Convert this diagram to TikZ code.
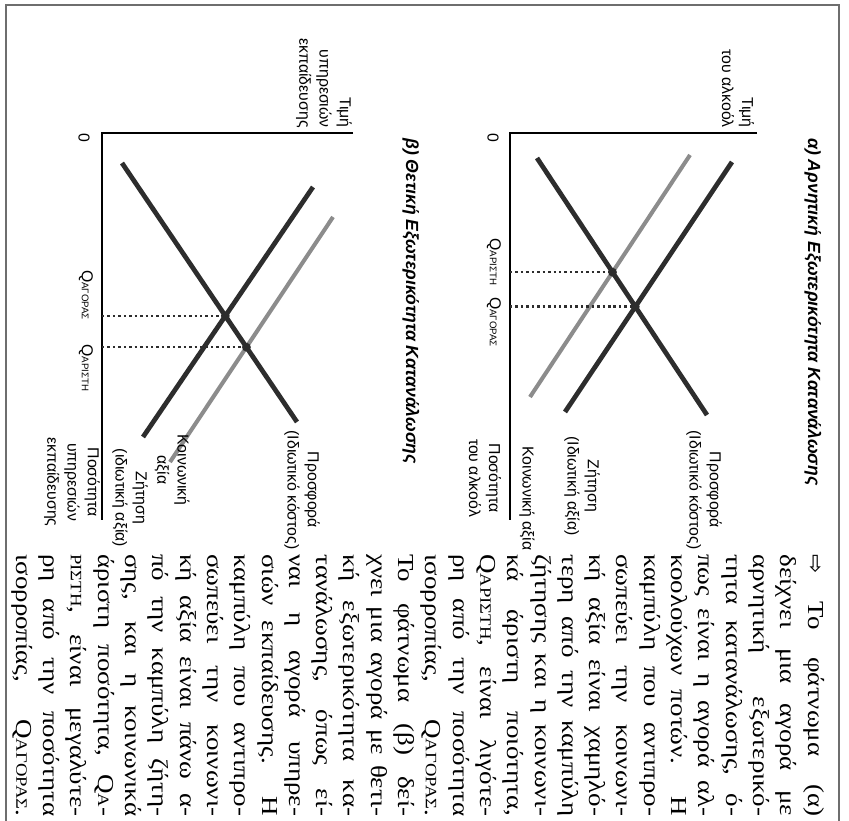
\documentclass[tikz,border=0pt]{standalone}
\usepackage{fontspec}
\setmainfont{Liberation Serif}[FakeStretch=1.18]
\newfontfamily\labelfont{Liberation Sans}
\newfontfamily\arrowfont{DejaVu Sans}
\definecolor{inkdark}{RGB}{45,45,45}
\definecolor{inkgray}{RGB}{140,140,140}
\definecolor{framegray}{RGB}{110,110,110}
\newcommand{\Qaxis}[1]{Q{\fontsize{5.5}{5.5}\selectfont #1}}
\newcommand{\Qbody}[1]{Q{\fontsize{9}{9}\selectfont #1}}
\newlength{\colw}
\setlength{\colw}{5.24cm}

\begin{document}
\begin{tikzpicture}[x=0.02cm, y=-0.02cm,
  axis/.style={draw=black, line width=0.8pt},
  darkcurve/.style={draw=inkdark, line width=2.7pt},
  graycurve/.style={draw=inkgray, line width=2.3pt},
  guide/.style={draw=inkdark, line width=1.5pt, dash pattern=on 1.4pt off 1.7pt},
  eqdot/.style={fill=inkdark, circle, inner sep=0pt, minimum size=5pt},
  axlabel/.style={rotate=-90, inner sep=0pt, align=center,
    font=\labelfont\fontsize{9}{11.5}\selectfont},
  qlabel/.style={rotate=-90, inner sep=0pt, font=\labelfont\fontsize{9}{9}\selectfont},
  titlebox/.style={rotate=-90, inner sep=0pt, anchor=west,
    font=\labelfont\bfseries\itshape\fontsize{10}{12}\selectfont},
  bodyline/.style={rotate=-90, inner sep=0pt, anchor=base west,
    font=\fontsize{13}{15.5}\selectfont}]
  \useasboundingbox (0,0) rectangle (849,821);
  % Frame
  \draw[framegray, line width=1pt] (6,830) -- (6,5) -- (839,5) -- (839,830);

  % (a) negative externality
  \node[titlebox] (titlea) at (813,138) {α) Αρνητική Εξωτερικότητα Κατανάλωσης};
  \coordinate (oa) at (510,133);
  \coordinate (pa) at (757,133);
  \coordinate (qa) at (510,520);
  \draw[axis] (pa) -- (oa) -- (qa);
  \coordinate (sa1) at (537,158);
  \coordinate (sa2) at (707,415);
  \coordinate (da1) at (732,162);
  \coordinate (da2) at (565,412);
  \coordinate (va1) at (690,155);
  \coordinate (va2) at (530,397);
  \draw[graycurve] (va1) -- (va2);
  \draw[darkcurve] (sa1) -- (sa2);
  \draw[darkcurve] (da1) -- (da2);
  \coordinate (mkta) at (intersection of sa1--sa2 and da1--da2);
  \coordinate (opta) at (intersection of sa1--sa2 and va1--va2);
  \draw[guide] (oa |- mkta) -- (mkta);
  \draw[guide] (oa |- opta) -- (opta);
  \node[eqdot] at (mkta) {};
  \node[eqdot] at (opta) {};
  \node[axlabel, anchor=east, align=right] (pricea) at (738,128) {Τιμή\\του αλκοόλ};
  \node[axlabel] (zeroa) at (493,138) {0};
  \node[qlabel] (qopta) at (494,262) {\Qaxis{ΑΡΙΣΤΗ}};
  \node[qlabel] (qmkta) at (494,322) {\Qaxis{ΑΓΟΡΑΣ}};
  \node[axlabel] (supla) at (704,490) {Προσφορά\\(Ιδιωτικό κόστος)};
  \node[axlabel] (demla) at (582,486) {Ζήτηση\\(Ιδιωτική αξία)};
  \node[axlabel, anchor=west] (socla) at (527,446) {Κοινωνική αξία};
  \node[axlabel] (quanta) at (485,478) {Ποσότητα\\του αλκοόλ};

  % (b) positive externality
  \node[titlebox] (titleb) at (411,138) {β) Θετική Εξωτερικότητα Κατανάλωσης};
  \coordinate (ob) at (102,133);
  \coordinate (pb) at (353,133);
  \coordinate (qb) at (102,520);
  \draw[axis] (pb) -- (ob) -- (qb);
  \coordinate (sb1) at (122,163);
  \coordinate (sb2) at (297,422);
  \coordinate (db1) at (313,187);
  \coordinate (db2) at (143,437);
  \coordinate (vb1) at (333,217);
  \coordinate (vb2) at (170,462);
  \draw[graycurve] (vb1) -- (vb2);
  \draw[darkcurve] (sb1) -- (sb2);
  \draw[darkcurve] (db1) -- (db2);
  \coordinate (mktb) at (intersection of sb1--sb2 and db1--db2);
  \coordinate (optb) at (intersection of sb1--sb2 and vb1--vb2);
  \draw[guide] (ob |- mktb) -- (mktb);
  \draw[guide] (ob |- optb) -- (optb);
  \node[eqdot] at (mktb) {};
  \node[eqdot] at (optb) {};
  \node[axlabel, anchor=east, align=right] (priceb) at (324,128) {Τιμή\\υπηρεσιών\\εκπαίδευσης};
  \node[axlabel] (zerob) at (84,138) {0};
  \node[qlabel] (qmktb) at (86,295) {\Qaxis{ΑΓΟΡΑΣ}};
  \node[qlabel] (qoptb) at (86,368) {\Qaxis{ΑΡΙΣΤΗ}};
  \node[axlabel] (suplb) at (302,490) {Προσφορά\\(Ιδιωτικό κόστος)};
  \node[axlabel] (soclb) at (172,470) {Κοινωνική\\αξία};
  \node[axlabel] (demlb) at (130,498) {Ζήτηση\\(ιδιωτική αξία)};
  \node[axlabel] (quantb) at (72,482) {Ποσότητα\\υπηρεσιών\\εκπαίδευσης};

  % Text column
  \foreach \ln [count=\i] in {
    {{\arrowfont ⇨} Το φάτνωμα (α)},
    {δείχνει μια αγορά με},
    {αρνητική εξωτερικό-},
    {τητα κατανάλωσης, ό-},
    {πως είναι η αγορά αλ-},
    {κοολούχων ποτών. Η},
    {καμπύλη που αντιπρο-},
    {σωπεύει την κοινωνι-},
    {κή αξία είναι χαμηλό-},
    {τερη από την καμπύλη},
    {ζήτησης και η κοινωνι-},
    {κά άριστη ποιότητα,},
    {\Qbody{ΑΡΙΣΤΗ}, είναι λιγότε-},
    {ρη από την ποσότητα},
    {ισορροπίας, \Qbody{ΑΓΟΡΑΣ}.},
    {Το φάτνωμα (β) δεί-},
    {χνει μια αγορά με θετι-},
    {κή εξωτερικότητα κα-},
    {τανάλωσης, όπως εί-},
    {ναι η αγορά υπηρε-},
    {σιών εκπαίδευσης. Η},
    {καμπύλη που αντιπρο-},
    {σωπεύει την κοινωνι-},
    {κή αξία είναι πάνω α-},
    {πό την καμπύλη ζήτη-},
    {σης, και η κοινωνικά},
    {άριστη ποσότητα, \Qbody{Α}-},
    {{\fontsize{9}{9}\selectfont ΡΙΣΤΗ}, είναι μεγαλύτε-},
    {ρη από την ποσότητα},
    {ισορροπίας, \Qbody{ΑΓΟΡΑΣ}.}}
    \node[bodyline] (line\i) at ({808-(\i-1)*27.3},554) {\makebox[\colw][s]{\ln}};
\end{tikzpicture}
\end{document}
